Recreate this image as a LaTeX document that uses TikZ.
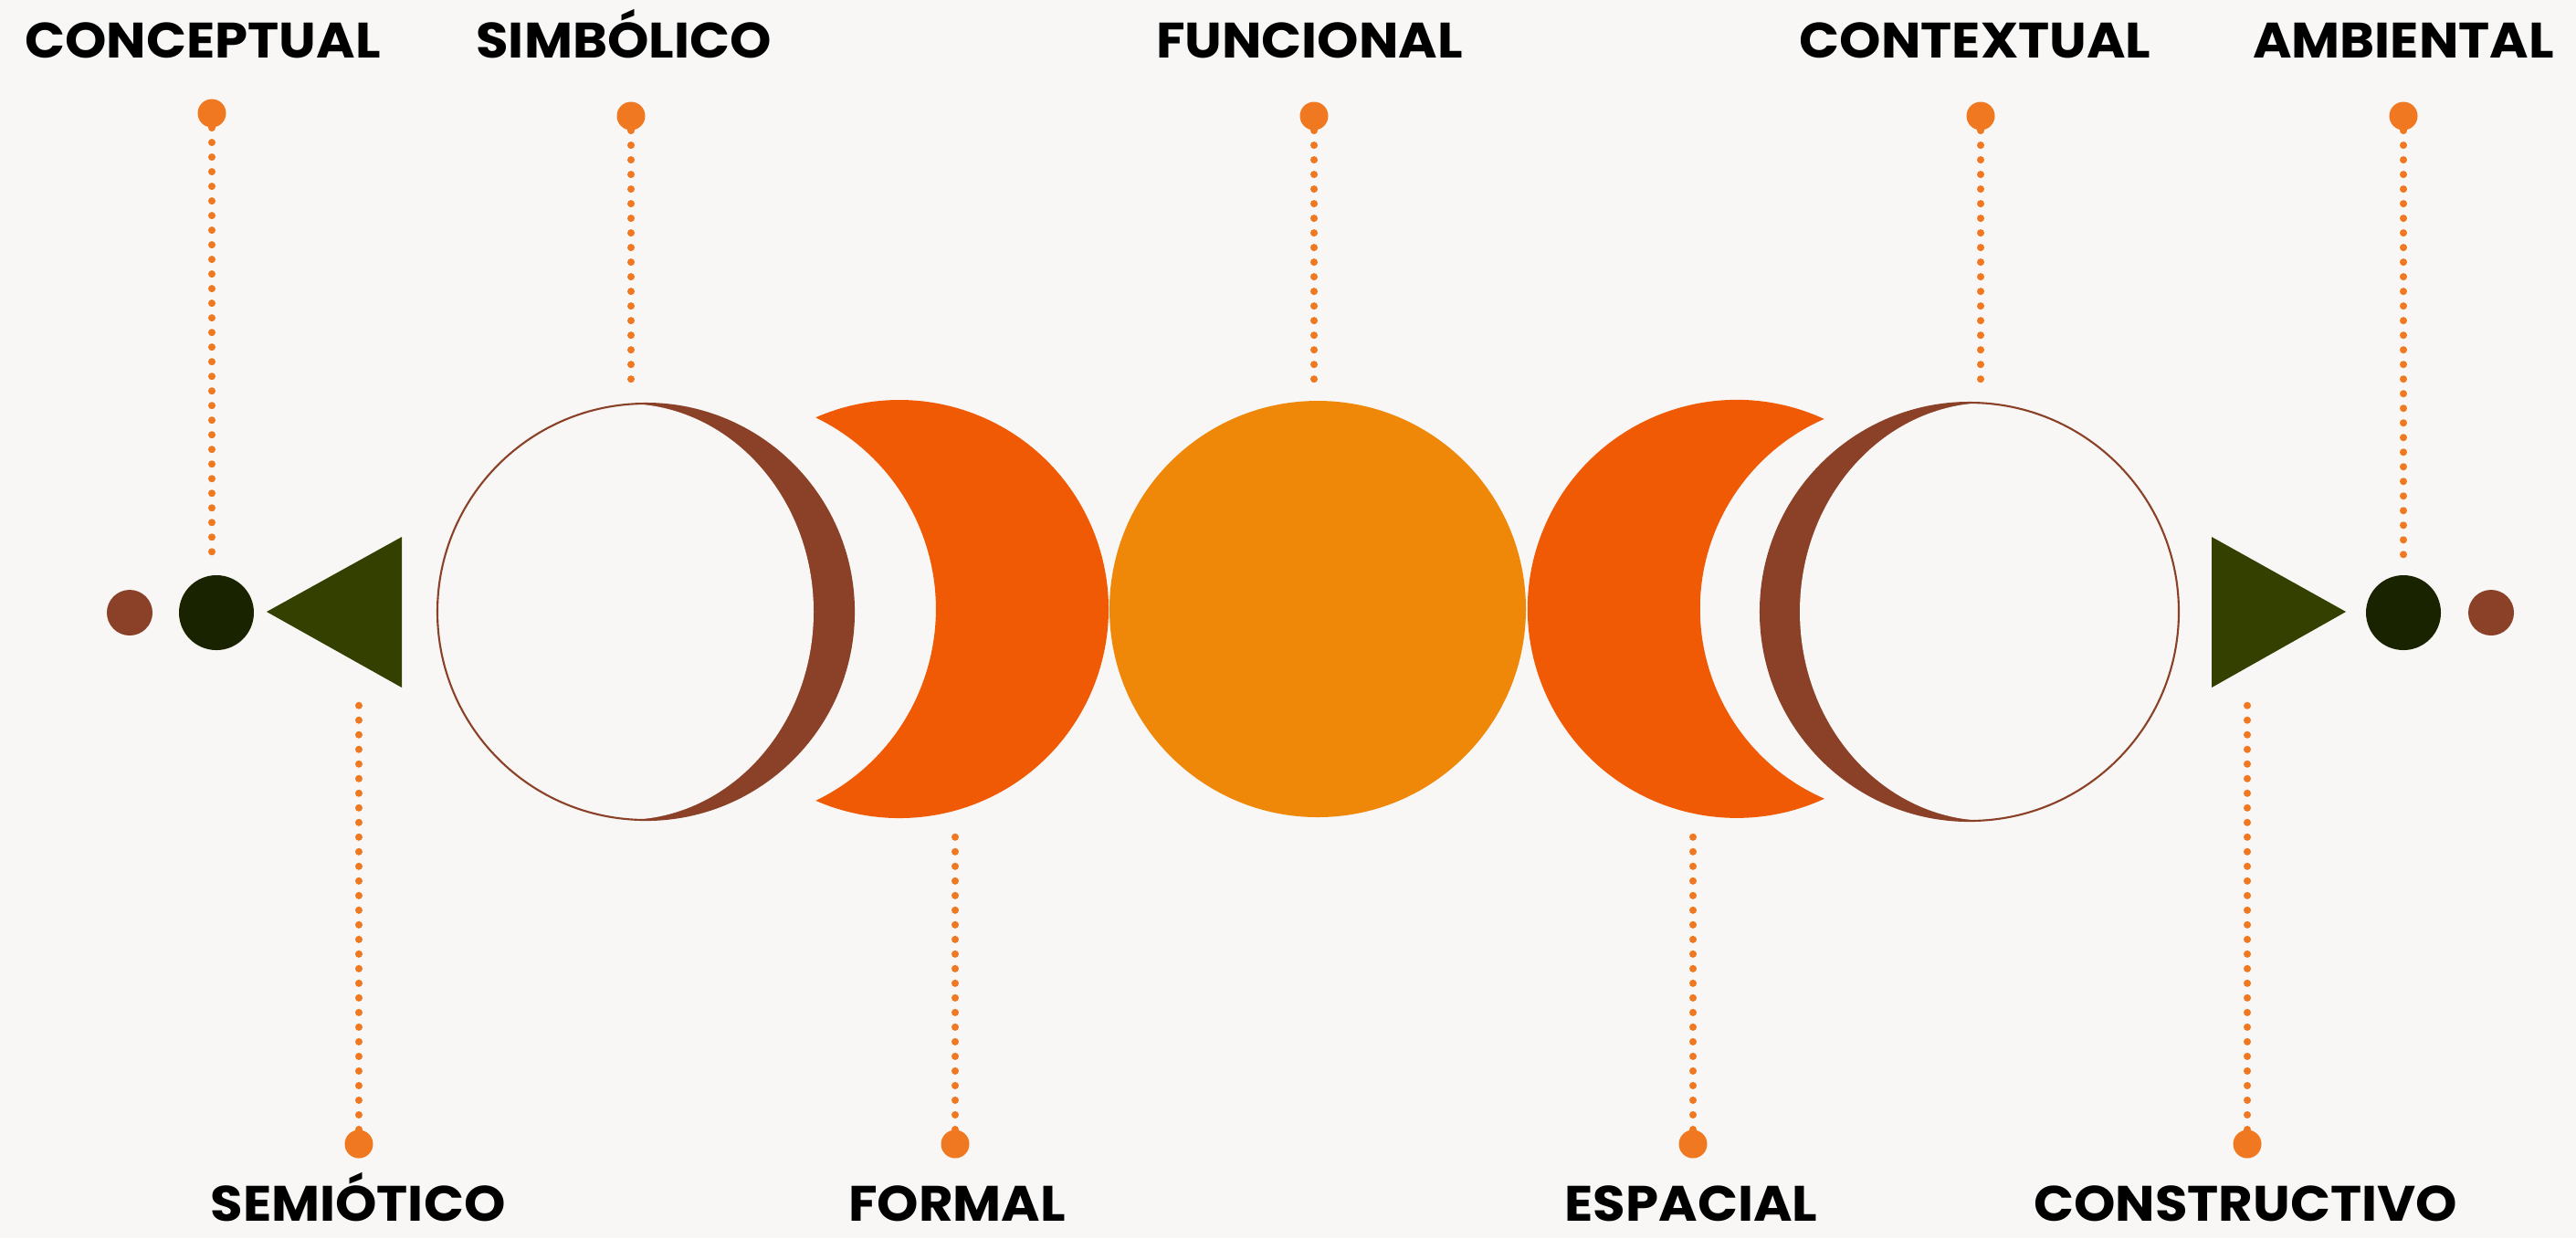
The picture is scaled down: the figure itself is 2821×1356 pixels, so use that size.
\documentclass[tikz,border=0pt]{standalone}
\usepackage{fontspec}
\setmainfont{Poppins}[FakeStretch=1.06]
\usepackage{xcolor}
\definecolor{paper}{HTML}{F8F7F5}
\definecolor{pinorange}{HTML}{F07820}
\definecolor{rust}{HTML}{8B4127}
\definecolor{nightgreen}{HTML}{1A2300}
\definecolor{olive}{HTML}{344000}
\definecolor{flame}{HTML}{F05A05}
\definecolor{amber}{HTML}{EF8808}
\tikzset{
  lbl/.style={font=\fontsize{15.5pt}{18pt}\selectfont\bfseries,anchor=base,inner sep=0pt},
  dotline/.style={pinorange,line width=0.08cm,line cap=round,dash pattern=on 0pt off 0.16cm},
}

\begin{document}
\begin{tikzpicture}[x=0.01cm,y=-0.01cm]
  \fill[paper] (0,0) rectangle (2821,1356);
  \useasboundingbox (0,0) rectangle (2821,1356);

  % puntos y triángulos de los extremos
  \fill[rust] (142,671) circle (25);
  \fill[nightgreen] (237,671) circle (41);
  \fill[olive] (292,670) -- (440,588) -- (440,753) -- cycle;
  \fill[olive] (2569,670) -- (2422,588) -- (2422,753) -- cycle;
  \fill[nightgreen] (2632,671) circle (41);
  \fill[rust] (2728,671) circle (25);

  % luna izquierda (gibosa)
  \fill[rust] (707,670) circle (228);
  \begin{scope}
    \clip (707,670) circle (228);
    \fill[paper] (684.5,670) ellipse (206.5 and 228);
  \end{scope}
  \draw[rust,line width=0.6pt] (707,670) circle (228);

  % creciente izquierda
  \fill[flame] (893.3,457.2) arc (246.4:473.6:229) arc (64.2:-64.2:233) -- cycle;

  % luna llena
  \fill[amber] (1443,667) circle (228);

  % creciente derecha
  \fill[flame] (1997.9,459) arc (-65.2:-294.8:229) arc (113.6:246.4:227) -- cycle;

  % luna derecha (gibosa)
  \fill[rust] (2157,670) circle (229);
  \begin{scope}
    \clip (2157,670) circle (229);
    \fill[paper] (2178.5,670) ellipse (207.5 and 229);
  \end{scope}
  \draw[rust,line width=0.6pt] (2157,670) circle (229);

  % etiquetas
  \node[lbl] (conceptual) at (222,63) {CONCEPTUAL};
  \node[lbl] (simbolico) at (683,63) {SIMBÓLICO};
  \node[lbl] (funcional) at (1434,63) {FUNCIONAL};
  \node[lbl] (contextual) at (2163,63) {CONTEXTUAL};
  \node[lbl] (ambiental) at (2632,63) {AMBIENTAL};
  \node[lbl] (semiotico) at (392,1337) {SEMIÓTICO};
  \node[lbl] (formal) at (1048,1337) {FORMAL};
  \node[lbl] (espacial) at (1852,1337) {ESPACIAL};
  \node[lbl] (constructivo) at (2459,1337) {CONSTRUCTIVO};

  % marcadores y sus extremos
  \coordinate (p-conc) at (232,124);
  \coordinate (p-simb) at (691,127);
  \coordinate (p-func) at (1439,127);
  \coordinate (p-cont) at (2169,127);
  \coordinate (p-amb) at (2632,127);
  \coordinate (p-semi) at (393,1253);
  \coordinate (p-form) at (1046,1253);
  \coordinate (p-esp) at (1854,1253);
  \coordinate (p-cons) at (2461,1253);
  \coordinate (e-conc) at (232,620);
  \coordinate (e-simb) at (691,431);
  \coordinate (e-func) at (1439,431);
  \coordinate (e-cont) at (2169,431);
  \coordinate (e-amb) at (2632,623);
  \coordinate (e-semi) at (393,757);
  \coordinate (e-form) at (1046,901);
  \coordinate (e-esp) at (1854,901);
  \coordinate (e-cons) at (2461,757);

  \draw[dotline] (p-conc) -- (e-conc);
  \draw[dotline] (p-simb) -- (e-simb);
  \draw[dotline] (p-func) -- (e-func);
  \draw[dotline] (p-cont) -- (e-cont);
  \draw[dotline] (p-amb) -- (e-amb);
  \draw[dotline] (p-semi) -- (e-semi);
  \draw[dotline] (p-form) -- (e-form);
  \draw[dotline] (p-esp) -- (e-esp);
  \draw[dotline] (p-cons) -- (e-cons);

  \fill[pinorange] (p-conc) circle (15.5);
  \fill[pinorange] (p-simb) circle (15.5);
  \fill[pinorange] (p-func) circle (15.5);
  \fill[pinorange] (p-cont) circle (15.5);
  \fill[pinorange] (p-amb) circle (15.5);
  \fill[pinorange] (p-semi) circle (15.5);
  \fill[pinorange] (p-form) circle (15.5);
  \fill[pinorange] (p-esp) circle (15.5);
  \fill[pinorange] (p-cons) circle (15.5);
\end{tikzpicture}
\end{document}
